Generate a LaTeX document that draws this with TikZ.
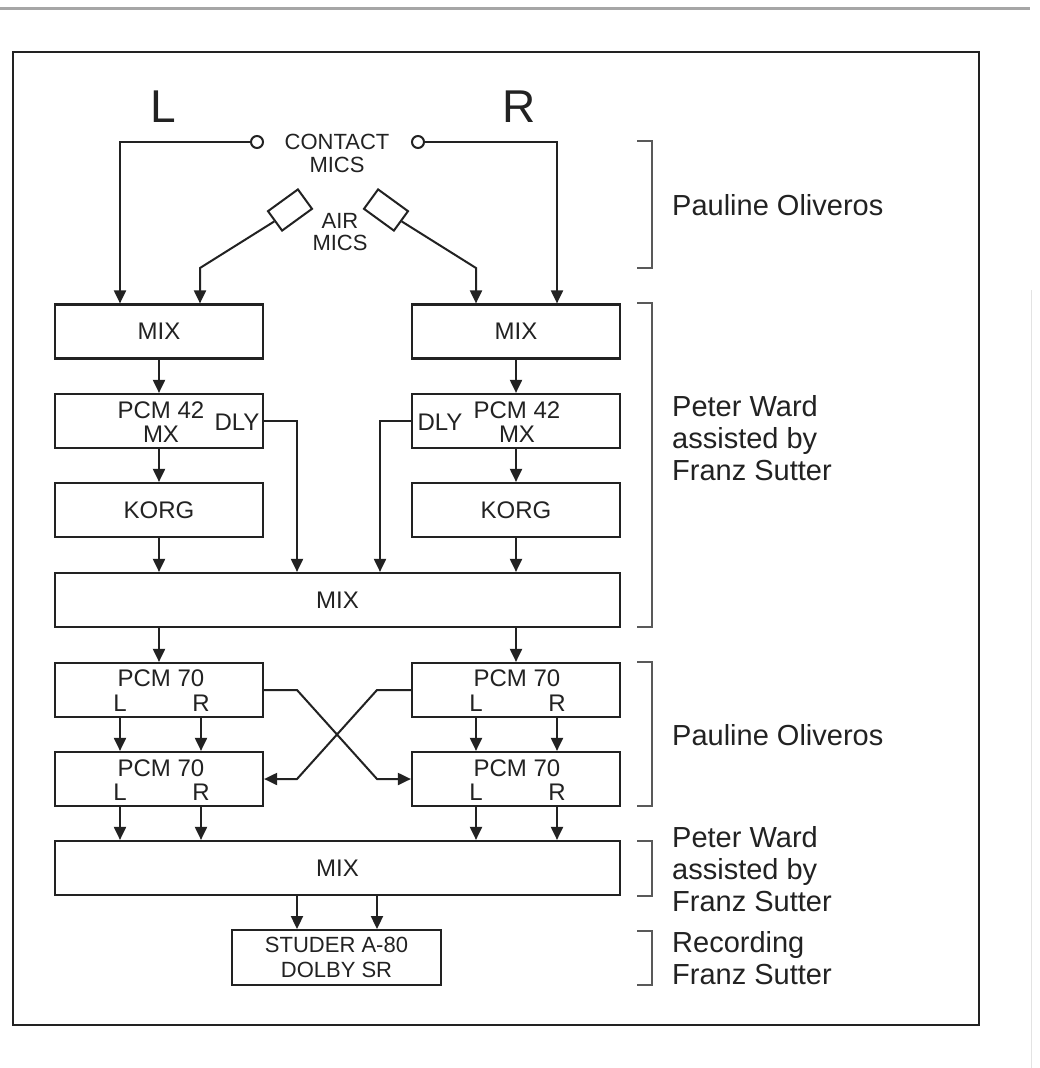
\documentclass[tikz,border=0pt]{standalone}
\usepackage{fontspec}
\setmainfont{Liberation Sans}
\usetikzlibrary{arrows.meta}
\definecolor{ink}{HTML}{222222}
\begin{document}
\begin{tikzpicture}[x=1pt,y=-1pt,
  box/.style={draw=ink, line width=2.2pt, minimum width=208pt, minimum height=54pt, inner sep=0pt, font=\fontsize{24}{25}\selectfont, text=ink, align=center},
  lbl/.style={inner sep=0pt, font=\fontsize{24}{24}\selectfont, text=ink, align=center},
  arr/.style={draw=ink, line width=2pt, -{Triangle[length=13pt,width=12pt]}},
  brk/.style={draw=ink!75, line width=1.4pt},
  side/.style={anchor=west, inner sep=0pt, align=left, font=\fontsize{29}{32}\selectfont, text=ink},
  big/.style={inner sep=0pt, font=\fontsize{46}{46}\selectfont, text=ink},
  mic/.style={draw=ink, line width=2pt, minimum width=37pt, minimum height=24pt, inner sep=0pt},
  jack/.style={circle, draw=ink, line width=2pt, minimum size=12pt, inner sep=0pt}]
\useasboundingbox (0,0) rectangle (1040,1068);
\fill[white] (0,0) rectangle (1040,1068);
% page artefacts and frame
\draw[gray!70, line width=3pt] (0,8) -- (1030,8);
\draw[gray!22, line width=1pt] (1031,290) -- (1031,1068);
\draw[ink, line width=1.8pt] (13,52) rectangle (979,1025);

% big channel letters
\node[big] (Lbig) at (163,107) {L};
\node[big] (Rbig) at (519,107) {R};

% microphones
\node[jack] (jL) at (257,142) {};
\node[jack] (jR) at (418,142) {};
\node[lbl, font=\fontsize{22}{23}\selectfont] (contact) at (337,153) {CONTACT\\MICS};
\node[mic, rotate=36] (amL) at (290,210) {};
\node[mic, rotate=-36] (amR) at (386,210) {};
\node[lbl, font=\fontsize{22}{22}\selectfont] (air) at (340,232) {AIR\\MICS};

% boxes
\node[box] (mixL) at (159,331.5) {MIX};
\node[box] (mixR) at (516,331.5) {MIX};
\node[box] (p42L) at (159,421) {};
\node[lbl] (p42Lt) at (161,422) {PCM 42\\MX};
\node[lbl] (p42Ld) at (237,422) {DLY};
\node[box] (p42R) at (516,421) {};
\node[lbl] (p42Rt) at (517,422) {PCM 42\\MX};
\node[lbl] (p42Rd) at (440,422) {DLY};
\node[box] (korgL) at (159,510) {KORG};
\node[box] (korgR) at (516,510) {KORG};
\node[box, minimum width=565pt] (bigmix) at (337.5,600) {MIX};

\node[box] (paL) at (159,690) {};
\node[lbl] (paLt) at (161,678) {PCM 70};
\node[lbl] (paLl) at (120,703) {L};
\node[lbl] (paLr) at (201,703) {R};
\node[box] (paR) at (516,690) {};
\node[lbl] (paRt) at (517,678) {PCM 70};
\node[lbl] (paRl) at (476,703) {L};
\node[lbl] (paRr) at (557,703) {R};

\node[box] (pbL) at (159,779) {};
\node[lbl] (pbLt) at (161,768) {PCM 70};
\node[lbl] (pbLl) at (120,792) {L};
\node[lbl] (pbLr) at (201,792) {R};
\node[box] (pbR) at (516,779) {};
\node[lbl] (pbRt) at (517,768) {PCM 70};
\node[lbl] (pbRl) at (476,792) {L};
\node[lbl] (pbRr) at (557,792) {R};

\node[box, minimum width=565pt] (mix3) at (337.5,868) {MIX};
\node[box, minimum width=209pt, minimum height=55pt, line width=1.9pt, font=\fontsize{22}{25}\selectfont] (studer) at (336.5,957.5) {STUDER A-80\\DOLBY SR};

% connectors: mics
\draw[arr] (jL.west) -- (120,142) -- (120,0 |- mixL.north);
\draw[arr] (jR.east) -- (557,142) -- (557,0 |- mixR.north);
\draw[arr] (amL.west) -- (200,268) -- (200,0 |- mixL.north);
\draw[arr] (amR.east) -- (476,268) -- (476,0 |- mixR.north);

% chain
\draw[arr] (mixL.south) -- (p42L.north);
\draw[arr] (mixR.south) -- (p42R.north);
\draw[arr] (p42L.south) -- (korgL.north);
\draw[arr] (p42R.south) -- (korgR.north);
\draw[arr] (korgL.south) -- (korgL.south |- bigmix.north);
\draw[arr] (korgR.south) -- (korgR.south |- bigmix.north);
\draw[arr] (p42L.east) -- (297,421) -- (297,0 |- bigmix.north);
\draw[arr] (p42R.west) -- (380,421) -- (380,0 |- bigmix.north);
\draw[arr] (paL.north |- bigmix.south) -- (paL.north);
\draw[arr] (paR.north |- bigmix.south) -- (paR.north);

% PCM 70 stages
\foreach \xx in {120,201} {
  \draw[arr] (\xx,0 |- paL.south) -- (\xx,0 |- pbL.north);
  \draw[arr] (\xx,0 |- pbL.south) -- (\xx,0 |- mix3.north);
}
\foreach \xx in {476,557} {
  \draw[arr] (\xx,0 |- paR.south) -- (\xx,0 |- pbR.north);
  \draw[arr] (\xx,0 |- pbR.south) -- (\xx,0 |- mix3.north);
}
\draw[arr] (paL.east) -- (297,690) -- (377,779) -- (pbR.west);
\draw[arr] (paR.west) -- (377,690) -- (297,779) -- (pbL.east);

% to recorder
\draw[arr] (297,0 |- mix3.south) -- (297,0 |- studer.north);
\draw[arr] (377,0 |- mix3.south) -- (377,0 |- studer.north);

% brackets
\draw[brk] (637,141) -- (652,141) -- (652,268) -- (637,268);
\draw[brk] (637,303) -- (652,303) -- (652,627) -- (637,627);
\draw[brk] (637,662) -- (652,662) -- (652,806) -- (637,806);
\draw[brk] (637,841) -- (652,841) -- (652,896) -- (637,896);
\draw[brk] (637,931) -- (652,931) -- (652,985) -- (637,985);

% credits
\node[side] (s1) at (672,205) {Pauline Oliveros};
\node[side] (s2) at (672,438) {Peter Ward\\assisted by\\Franz Sutter};
\node[side] (s3) at (672,735) {Pauline Oliveros};
\node[side] (s4) at (672,869) {Peter Ward\\assisted by\\Franz Sutter};
\node[side] (s5) at (672,958) {Recording\\Franz Sutter};
\end{tikzpicture}
\end{document}
